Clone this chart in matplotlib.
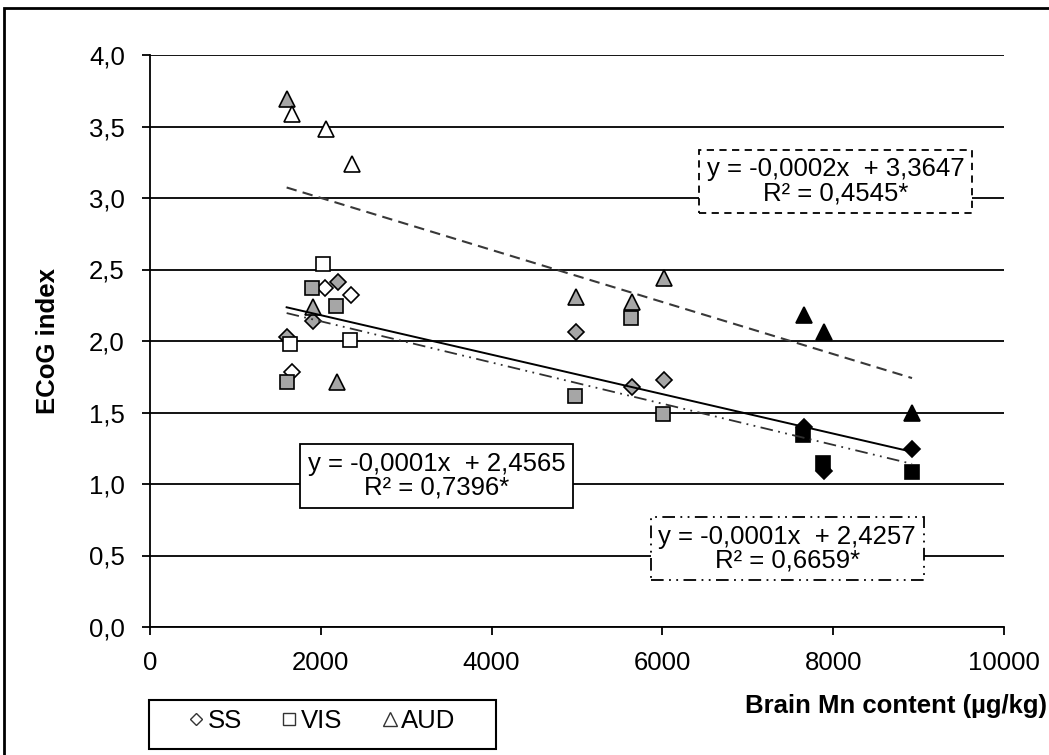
import numpy as np
import matplotlib
matplotlib.use("Agg")
import matplotlib.pyplot as plt
from matplotlib.lines import Line2D
from matplotlib.patches import Rectangle
from matplotlib.ticker import FuncFormatter

plt.rcParams['font.family'] = ['Liberation Sans', 'DejaVu Sans']

# --- data ---
fill = ['g', 'w', 'g', 'w', 'g', 'w', 'g', 'g', 'g', 'k', 'k', 'k']

ss_x = [1600, 1660, 1910, 2049, 2197, 2354, 4988, 5644, 6019, 7655, 7892, 8923]
ss_y = [2.03, 1.78, 2.14, 2.37, 2.41, 2.32, 2.06, 1.68, 1.73, 1.40, 1.09, 1.245]

vis_x = [1600, 1640, 1901, 2030, 2178, 2342, 4977, 5632, 6007, 7646, 7880, 8923]
vis_y = [1.71, 1.98, 2.37, 2.54, 2.245, 2.01, 1.615, 2.16, 1.49, 1.345, 1.15, 1.085]

aud_x = [1604, 1663, 1905, 2061, 2190, 2365, 4988, 5644, 6019, 7658, 7892, 8923]
aud_y = [3.69, 3.59, 2.24, 3.48, 1.71, 3.24, 2.31, 2.27, 2.44, 2.18, 2.06, 1.50]

# trend lines: (slope, intercept)
fit_solid = (-0.000138, 2.4565)
fit_dashdot = (-0.000144, 2.4257)
fit_dashed = (-0.000182, 3.3647)

eq_solid = "y = -0,0001x  + 2,4565\nR² = 0,7396*"
eq_dashdot = "y = -0,0001x  + 2,4257\nR² = 0,6659*"
eq_dashed = "y = -0,0002x  + 3,3647\nR² = 0,4545*"

fill_colors = {'w': 'white', 'g': '#a6a6a6', 'k': 'black'}

fig = plt.figure(figsize=(10.49, 7.55), dpi=100)
ax = fig.add_axes([150/1049, 1-627/755, 854/1049, 572/755])

fs = 18.5

# gridlines
ax.set_ylim(0, 4.0)
ax.set_xlim(0, 10000)
ax.set_yticks(np.arange(0, 4.01, 0.5))
ax.set_xticks(np.arange(0, 10001, 2000))
ax.yaxis.grid(True, color='black', lw=1.3)
ax.set_axisbelow(True)

for xs, ys, mk, ms in [(ss_x, ss_y, 'D', 8.5), (vis_x, vis_y, 's', 10.5), (aud_x, aud_y, '^', 12)]:
    for x, y, f in zip(xs, ys, fill):
        ax.plot(x, y, marker=mk, ms=ms, mfc=fill_colors[f], mec='black',
                mew=1.2, ls='none', zorder=3)

xr = np.array([min(ss_x), max(ss_x)])
ax.plot(xr, fit_solid[0]*xr + fit_solid[1], color='black', lw=1.4, zorder=4)
ax.plot(xr, fit_dashdot[0]*xr + fit_dashdot[1], color='#303030', lw=1.3,
        ls=(0, (7, 3, 1, 3, 1, 3)), zorder=4)
ax.plot(xr, fit_dashed[0]*xr + fit_dashed[1], color='#383838', lw=1.5,
        ls=(0, (5, 3)), zorder=4)

box = dict(boxstyle='square,pad=0.3', fc='white', ec='black', lw=1.3)
ax.text(0.336, 0.264, eq_solid, transform=ax.transAxes, ha='center', va='center',
        fontsize=fs, linespacing=1.0, bbox=box, zorder=5)
ax.text(0.746, 0.137, eq_dashdot, transform=ax.transAxes, ha='center', va='center',
        fontsize=fs, linespacing=1.0,
        bbox=dict(box, ls=(0, (7, 3, 1, 3, 1, 3))), zorder=5)
ax.text(0.803, 0.779, eq_dashed, transform=ax.transAxes, ha='center', va='center',
        fontsize=fs, linespacing=1.0, bbox=dict(box, ls=(0, (4, 3))), zorder=5)

# axes styling
for s in ['top', 'right']:
    ax.spines[s].set_visible(False)
for s in ['left', 'bottom']:
    ax.spines[s].set_linewidth(1.3)
ax.tick_params(axis='y', direction='out', length=6, width=1.3, pad=12, labelsize=fs)
ax.tick_params(axis='x', direction='out', length=6, width=1.3, pad=11, labelsize=fs)
ax.yaxis.set_major_formatter(FuncFormatter(lambda v, p: f"{v:.1f}".replace('.', ',')))
ax.set_ylabel("ECoG index", fontsize=fs, fontweight='bold', labelpad=21)
fig.text(1047/1049, 1-706/755, "Brain Mn content (µg/kg)", ha='right', va='center',
         fontsize=fs, fontweight='bold')

# legend: frame drawn separately, entries placed inside
fig.patches.append(Rectangle((149/1049, 1-749/755), (496-149)/1049, 49/755,
                             transform=fig.transFigure, fill=False, ec='black', lw=1.5))
handles = [Line2D([], [], marker='D', ms=6.5, mfc='white', mec='#333333', mew=1, ls='none'),
           Line2D([], [], marker='s', ms=9, mfc='white', mec='#333333', mew=1, ls='none'),
           Line2D([], [], marker='^', ms=10, mfc='white', mec='#333333', mew=1, ls='none')]
leg = fig.legend(handles, ['SS', 'VIS', 'AUD'], ncol=3, loc='center left',
                 bbox_to_anchor=(187/1049, 1-721/755), fontsize=fs, frameon=False,
                 handlelength=0.7, handletextpad=0.1, columnspacing=1.5,
                 borderpad=0, borderaxespad=0)

fig.patches.append(Rectangle((4/1049, -0.05), 1.1, 1-8/755+0.05, transform=fig.transFigure,
                             fill=False, ec='black', lw=2))

fig.savefig("out.png", dpi=100)
